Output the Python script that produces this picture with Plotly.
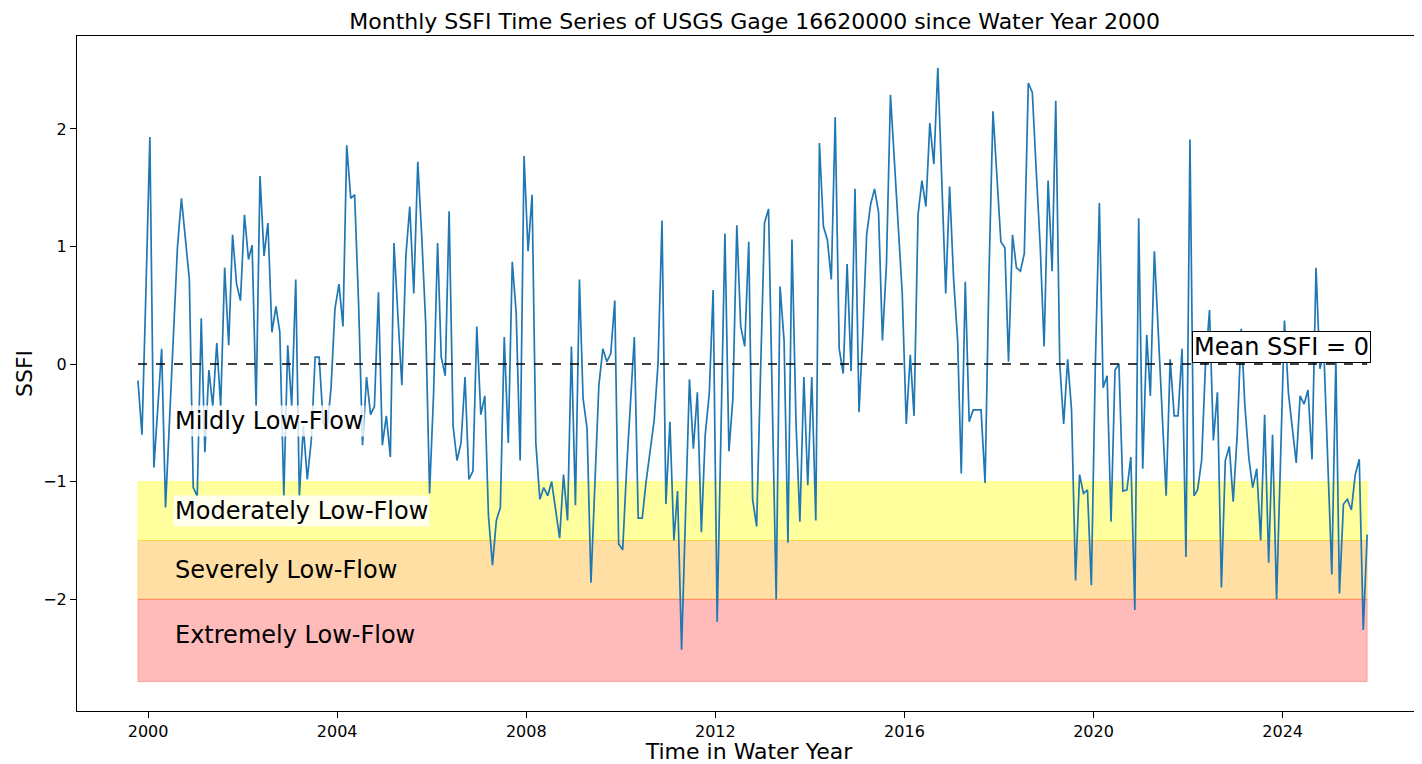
import pandas as pd
import plotly.graph_objects as go

# Monthly SSFI values, Oct 1999 .. Oct 2025
ssfi = [
    -0.14, -0.60, 0.60, 1.93, -0.88, -0.37, 0.13, -1.22, -0.50, 0.25, 0.99, 1.41,
    1.10, 0.72, -1.05, -1.12, 0.39, -0.75, -0.05, -0.36, 0.18, -0.36, 0.82, 0.16,
    1.10, 0.68, 0.54, 1.27, 0.89, 1.01, -0.36, 1.60, 0.92, 1.20, 0.27, 0.49,
    0.27, -1.12, 0.16, -0.36, 0.72, -1.12, -0.53, -0.98, -0.65, 0.06, 0.06, -0.50,
    -0.56, -0.20, 0.47, 0.68, 0.32, 1.86, 1.41, 1.44, 0.50, -0.69, -0.11, -0.43,
    -0.36, 0.61, -0.69, -0.44, -0.79, 1.03, 0.40, -0.18, 0.92, 1.34, 0.60, 1.72,
    1.10, 0.35, -1.10, -0.25, 1.03, 0.06, -0.10, 1.30, -0.53, -0.82, -0.67, -0.11,
    -0.98, -0.91, 0.32, -0.43, -0.27, -1.29, -1.71, -1.33, -1.22, 0.23, -0.67, 0.87,
    0.44, -0.82, 1.77, 0.96, 1.44, -0.67, -1.15, -1.05, -1.12, -1.00, -1.24, -1.48,
    -0.94, -1.33, 0.15, -1.20, 0.72, -0.29, -0.55, -1.86, -1.00, -0.18, 0.13, 0.02,
    0.09, 0.54, -1.53, -1.58, -0.88, -0.36, 0.23, -1.31, -1.31, -1.00, -0.74, -0.48,
    0.00, 1.22, -1.19, -0.49, -1.50, -1.08, -2.43, -1.30, -0.13, -0.72, -0.24, -1.43,
    -0.60, -0.25, 0.63, -2.19, -0.50, 1.11, -0.74, -0.30, 1.18, 0.32, 0.15, 1.04,
    -1.15, -1.38, -0.08, 1.20, 1.32, -0.40, -2.00, 0.66, 0.20, -1.52, 1.06, -0.49,
    -1.34, -0.11, -1.03, -0.11, -1.33, 1.88, 1.17, 1.06, 0.72, 2.10, 0.13, -0.08,
    0.85, -0.06, 1.49, -0.41, 0.30, 1.10, 1.36, 1.49, 1.29, 0.20, 0.85, 2.29,
    1.75, 1.20, 0.60, -0.51, 0.08, -0.44, 1.27, 1.56, 1.34, 2.05, 1.70, 2.52,
    1.55, 0.60, 1.51, 0.72, 0.20, -0.93, 0.70, -0.49, -0.39, -0.39, -0.39, -1.01,
    0.75, 2.15, 1.58, 1.04, 0.99, 0.02, 1.10, 0.82, 0.79, 0.94, 2.39, 2.31,
    1.65, 1.00, 0.15, 1.56, 0.79, 2.24, 0.00, -0.51, 0.04, -0.39, -1.84, -0.94,
    -1.10, -1.07, -1.88, 0.00, 1.37, -0.20, -0.10, -1.34, -0.05, 0.00, -1.08, -1.07,
    -0.79, -2.09, 1.24, -0.89, 0.25, -0.27, 0.96, 0.30, -0.45, -1.12, 0.04, -0.44,
    -0.44, 0.13, -1.64, 1.91, -1.12, -1.07, -0.82, 0.00, 0.46, -0.65, -0.24, -1.90,
    -0.82, -0.70, -1.17, -0.60, 0.30, -0.35, -0.80, -1.05, -0.89, -1.50, -0.43, -1.69,
    -0.60, -2.00, -0.84, 0.37, -0.25, -0.55, -0.84, -0.27, -0.34, -0.22, -0.81, 0.82,
    -0.04, 0.09, -0.80, -1.79, 0.04, -1.95, -1.19, -1.15, -1.24, -0.94, -0.81, -2.26,
    -1.45,
]
start_month = "1999-10-01"
dates = pd.date_range(start=start_month, periods=len(ssfi), freq="MS") + pd.Timedelta(days=14)

tick_years = [2000, 2004, 2008, 2012, 2016, 2020, 2024]
y_ticks = [-2, -1, 0, 1, 2]
y_tick_text = ["\u22122", "\u22121", "0", "1", "2"]

bands = [  # (low, high, colour, label, label_y, boxed)
    (-1.5, -1.0, "rgba(255,255,0,0.38)", "Moderately Low-Flow", -1.25, True),
    (-2.0, -1.5, "rgba(255,165,0,0.36)", "Severely Low-Flow", -1.75, False),
    (-2.7, -2.0, "rgba(255,0,0,0.27)", "Extremely Low-Flow", -2.3, False),
]
mild_label = ("Mildly Low-Flow", -0.48)
mean_label = "Mean SSFI = 0"

FONT = "DejaVu Sans, Arial, sans-serif"
fig = go.Figure()

x0, x1 = dates[0], dates[-1]
shapes = []
for lo, hi, col, *_ in bands:
    shapes.append(dict(type="rect", xref="x", yref="y", x0=x0, x1=x1, y0=lo, y1=hi,
                       fillcolor=col, line=dict(color=col, width=1), layer="below"))

fig.add_trace(go.Scatter(x=dates, y=ssfi, mode="lines",
                         line=dict(color="#1f77b4", width=1.7), showlegend=False))
fig.add_trace(go.Scatter(x=[x0, x1], y=[0, 0], mode="lines",
                         line=dict(color="black", width=1.5, dash="dash"), showlegend=False))

label_x = pd.Timestamp("2000-07-15")
annotations = []
annotations.append(dict(x=label_x, y=mild_label[1], text=mild_label[0], showarrow=False,
                        xanchor="left", yanchor="middle", font=dict(size=24, color="black", family=FONT),
                        bgcolor="rgba(255,255,255,0.8)", borderpad=1))
for lo, hi, col, lab, ly, boxed in bands:
    annotations.append(dict(x=label_x, y=ly, text=lab, showarrow=False, xanchor="left",
                            yanchor="middle", font=dict(size=24, color="black", family=FONT),
                            bgcolor="rgba(255,255,255,0.8)" if boxed else None, borderpad=1))
annotations.append(dict(x=pd.Timestamp("2022-02-01"), y=0.01, text=mean_label, showarrow=False,
                        xanchor="left", yanchor="bottom", font=dict(size=24, color="black", family=FONT),
                        bgcolor="white", bordercolor="black", borderwidth=1, borderpad=1))

fig.update_layout(
    width=1414, height=756,
    margin=dict(l=69, r=1, t=28, b=53),
    paper_bgcolor="white", plot_bgcolor="white",
    font=dict(family=FONT, color="black", size=16),
    title=dict(text="Monthly SSFI Time Series of USGS Gage 16620000 since Water Year 2000",
               x=0.528, xanchor="center", y=0.982, yanchor="middle", font=dict(size=22)),
    shapes=shapes, annotations=annotations,
    xaxis=dict(range=[pd.Timestamp("1998-07-01"), pd.Timestamp("2026-12-05")],
               tickvals=[pd.Timestamp(f"{y}-01-01") for y in tick_years],
               ticktext=[str(y) for y in tick_years],
               showgrid=False, zeroline=False, showline=True, linecolor="black", linewidth=1,
               mirror=True, ticks="outside", ticklen=6, tickcolor="black",
               title=dict(text="Time in Water Year", font=dict(size=22), standoff=2),
               tickfont=dict(size=16)),
    yaxis=dict(range=[-2.95, 2.79], tickvals=y_ticks, ticktext=y_tick_text,
               showgrid=False, zeroline=False, showline=True, linecolor="black", linewidth=1,
               mirror=True, ticks="outside", ticklen=6, tickcolor="black",
               title=dict(text="SSFI", font=dict(size=22), standoff=4),
               tickfont=dict(size=16)),
)

fig.write_html("out.html")
